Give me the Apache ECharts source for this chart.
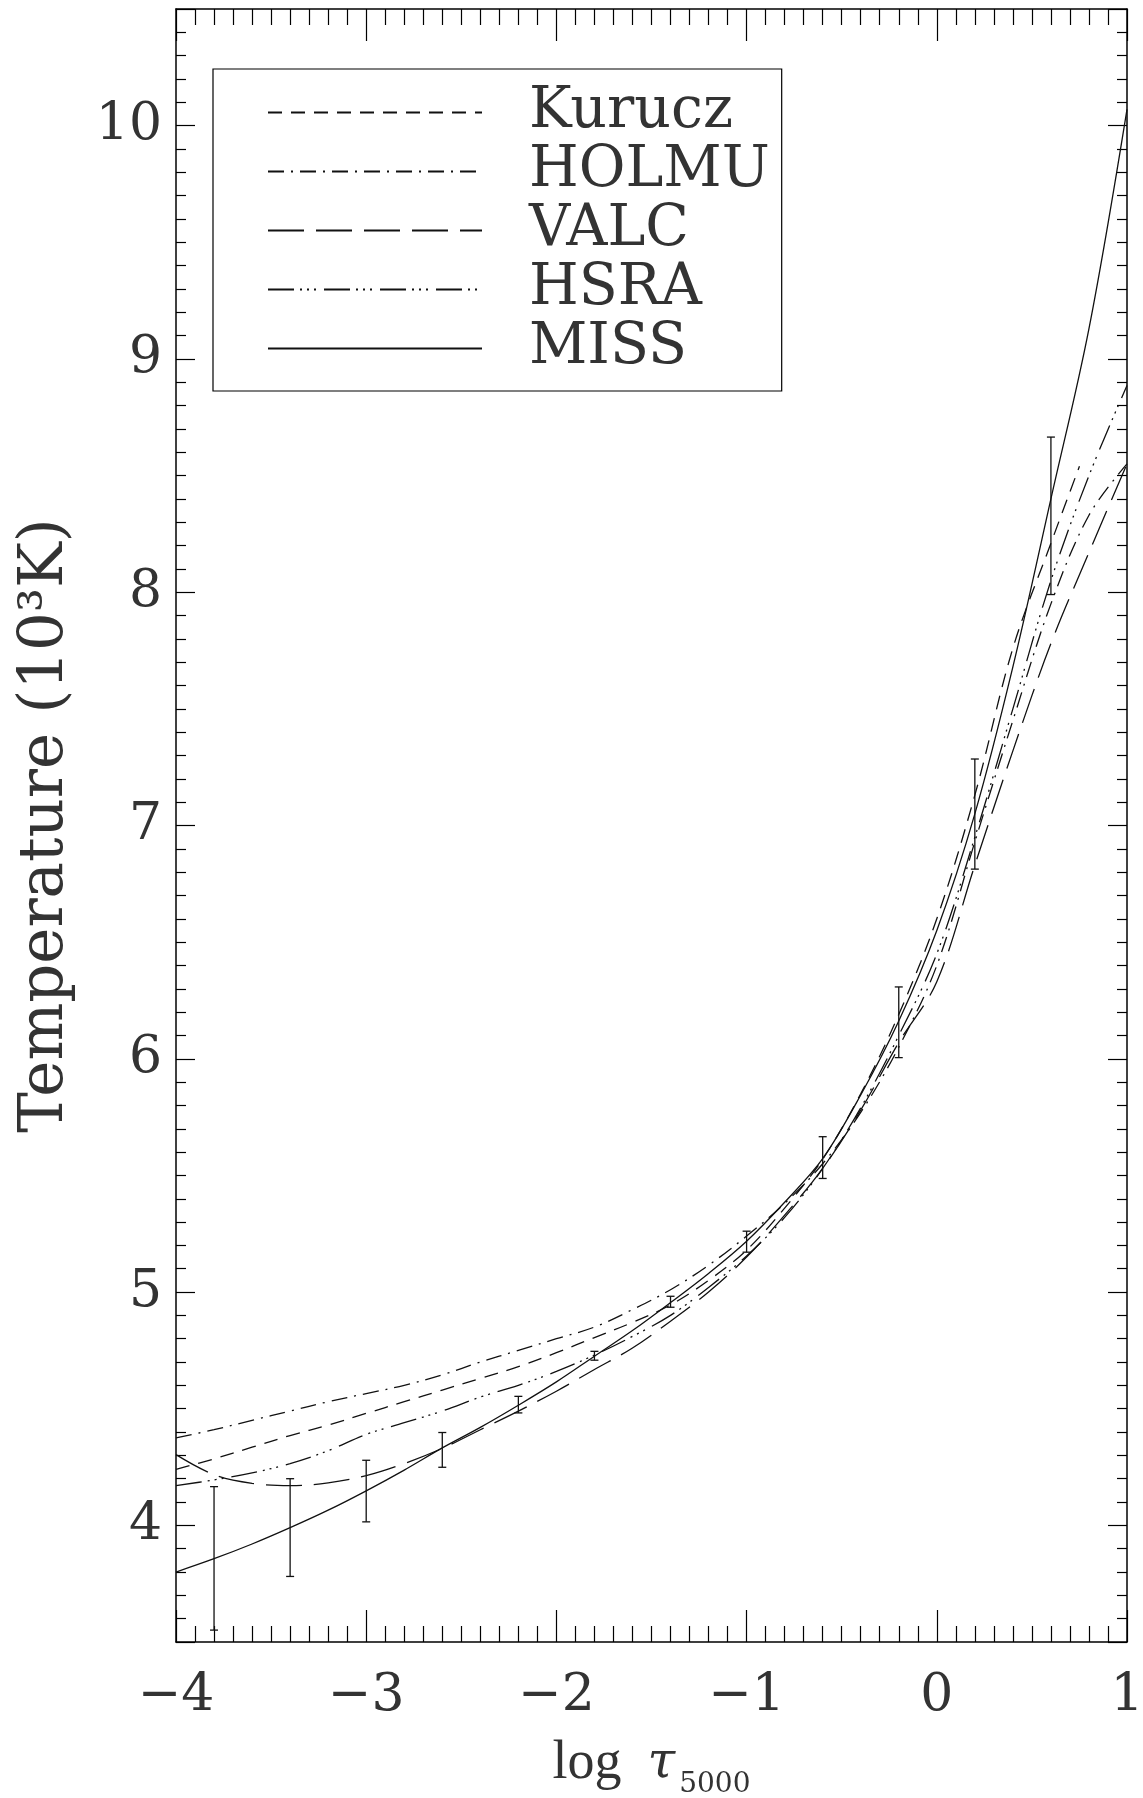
<!DOCTYPE html>
<html>
<head>
<meta charset="utf-8">
<script src="https://cdn.jsdelivr.net/npm/echarts@6/dist/echarts.min.js"></script>
<style>
  html, body { margin: 0; padding: 0; background: #fff; }
  #chart { width: 1143px; height: 1798px; }
</style>
</head>
<body>
<div id="chart"></div>
<script>
// log tau_5000 grid of the model curves
var logTau = [-4.0, -3.8, -3.6, -3.4, -3.2, -3.0, -2.8, -2.6, -2.4, -2.2, -2.0, -1.8, -1.6,
              -1.4, -1.2, -1.0, -0.8, -0.6, -0.4, -0.2, 0.0, 0.2, 0.4, 0.6, 0.8, 1.0];

// temperatures in 10^3 K
var kuruczTau = [-4.0, -3.8, -3.6, -3.4, -3.2, -3.0, -2.8, -2.6, -2.4, -2.2, -2.0, -1.8, -1.6,
                 -1.4, -1.2, -1.0, -0.8, -0.6, -0.4, -0.2, 0.0, 0.2, 0.4, 0.6, 0.75];
var kurucz = [4.24, 4.285, 4.335, 4.385, 4.43, 4.48, 4.53, 4.58, 4.63, 4.68, 4.74, 4.805, 4.87,
              4.945, 5.05, 5.18, 5.36, 5.57, 5.85, 6.19, 6.6, 7.13, 7.76, 8.21, 8.54];
var holmu = [4.375, 4.41, 4.45, 4.49, 4.53, 4.565, 4.60, 4.645, 4.70, 4.75, 4.80, 4.85, 4.925,
             5.01, 5.115, 5.24, 5.38, 5.55, 5.77, 6.05, 6.40, 6.93, 7.45, 7.95, 8.33, 8.55];
var valc = [4.303, 4.217, 4.18, 4.17, 4.182, 4.213, 4.265, 4.33, 4.41, 4.49, 4.575, 4.668, 4.76,
            4.875, 5.0, 5.15, 5.33, 5.53, 5.78, 6.07, 6.33, 6.83, 7.32, 7.78, 8.17, 8.55];
var hsra = [4.17, 4.195, 4.225, 4.265, 4.32, 4.39, 4.44, 4.49, 4.55, 4.60, 4.66, 4.73, 4.81,
            4.90, 5.02, 5.155, 5.32, 5.53, 5.79, 6.1, 6.45, 6.95, 7.5, 8.05, 8.5, 8.886];
var miss = [3.80, 3.857, 3.92, 3.99, 4.065, 4.148, 4.237, 4.332, 4.42, 4.515, 4.615, 4.725, 4.835,
            4.955, 5.08, 5.218, 5.385, 5.572, 5.845, 6.162, 6.55, 7.05, 7.68, 8.40, 9.13, 10.07];

// MISS error bars
var errTau  = [-3.8, -3.4, -3.0, -2.6, -2.2, -1.8, -1.4, -1.0, -0.6, -0.2, 0.2, 0.6];
var errLow  = [3.551, 3.781, 4.015, 4.249, 4.482, 4.708, 4.935, 5.171, 5.487, 6.005, 6.813, 7.99];
var errHigh = [4.166, 4.200, 4.279, 4.398, 4.553, 4.746, 4.982, 5.261, 5.666, 6.308, 7.285, 8.665];

var names = ['Kurucz', 'HOLMU', 'VALC', 'HSRA', 'MISS'];

function pairs(xs, ys) {
  return xs.map(function (x, i) { return [x, ys[i]]; });
}
function minus(v) {
  return v < 0 ? '\u2212' + Math.abs(v) : String(v);
}

var ink = '#111';
var txt = '#333';
var serif = 'DejaVu Serif';

function curve(name, xs, ys, dash) {
  return {
    name: name, type: 'line', data: pairs(xs, ys),
    symbol: 'none', showSymbol: false, smooth: 0.35, silent: true, z: 3,
    lineStyle: { color: ink, width: 1.3, type: dash },
    itemStyle: { color: ink }
  };
}

var errData = errTau.map(function (x, i) { return [x, errLow[i], errHigh[i]]; });

function xAxisOf(pos, labels) {
  return {
    type: 'value', min: -4, max: 1, interval: 1, position: pos,
    axisLine: { show: true, onZero: false, lineStyle: { color: '#000', width: 1.5 } },
    axisTick: { show: true, inside: true, length: 32, lineStyle: { color: '#000', width: 1.2 } },
    minorTick: { show: true, splitNumber: 10, length: 16, lineStyle: { color: '#000', width: 1.2 } },
    splitLine: { show: false },
    axisLabel: { show: labels, margin: 28, fontFamily: serif, fontSize: 52, color: txt, formatter: minus }
  };
}
function yAxisOf(pos, labels) {
  return {
    type: 'value', min: 3.5, max: 10.5, splitNumber: 7, position: pos,
    axisLine: { show: true, onZero: false, lineStyle: { color: '#000', width: 1.5 } },
    axisTick: { show: true, inside: true, length: 19, lineStyle: { color: '#000', width: 1.2 } },
    minorTick: { show: true, splitNumber: 10, length: 10, lineStyle: { color: '#000', width: 1.2 } },
    splitLine: { show: false },
    axisLabel: { show: labels, margin: 14, fontFamily: serif, fontSize: 52, color: txt,
                 showMinLabel: false, showMaxLabel: false }
  };
}

var xBottom = xAxisOf('bottom', true);
xBottom.name = '{a|log}{b|\u03c4}{c|5000}';
xBottom.nameLocation = 'middle';
xBottom.nameGap = 95;
xBottom.nameTextStyle = {
  color: txt,
  rich: {
    a: { fontFamily: 'Liberation Serif', fontSize: 54, color: txt },
    b: { fontFamily: serif, fontStyle: 'italic', fontSize: 50, color: txt, padding: [0, 4, 0, 26] },
    c: { fontFamily: serif, fontSize: 28, color: txt, verticalAlign: 'bottom', padding: [0, 0, -8, 0] }
  }
};

var yLeft = yAxisOf('left', true);
yLeft.name = 'Temperature (10\u00b3K)';
yLeft.nameLocation = 'middle';
yLeft.nameRotate = 90;
yLeft.nameGap = 99;
yLeft.nameTextStyle = { fontFamily: serif, fontSize: 61, color: txt };

var option = {
  animation: false,
  backgroundColor: '#fff',
  grid: { left: 176, right: 16, top: 9, bottom: 156, containLabel: false, outerBoundsMode: 'none' },
  xAxis: [xBottom, xAxisOf('top', false)],
  yAxis: [yLeft, yAxisOf('right', false)],
  legend: {
    data: names,
    orient: 'vertical', left: 213, top: 69,
    padding: [14, 12, 13, 54],
    borderColor: '#000', borderWidth: 1.2,
    itemWidth: 214, itemHeight: 16, itemGap: 0,
    selectedMode: false,
    itemStyle: { color: 'rgba(0,0,0,0)', borderWidth: 0, opacity: 0 },
    textStyle: { fontFamily: serif, fontSize: 57, color: txt, lineHeight: 59, width: 200, padding: [0, 0, 0, 42] }
  },
  series: [
    curve('Kurucz', kuruczTau, kurucz, [14, 9]),
    curve('HOLMU', logTau, holmu, [16, 7, 2, 7]),
    curve('VALC', logTau, valc, [36, 12]),
    curve('HSRA', logTau, hsra, [26, 6, 2, 5, 2, 5, 2, 8]),
    curve('MISS', logTau, miss, 'solid'),
    {
      name: 'err', type: 'custom', data: errData, silent: true, z: 4,
      renderItem: function (params, api) {
        var x = api.value(0);
        var lo = api.coord([x, api.value(1)]);
        var hi = api.coord([x, api.value(2)]);
        var c = 4;
        var st = { stroke: ink, lineWidth: 1.3 };
        return {
          type: 'group',
          children: [
            { type: 'line', shape: { x1: lo[0], y1: lo[1], x2: hi[0], y2: hi[1] }, style: st },
            { type: 'line', shape: { x1: lo[0] - c, y1: lo[1], x2: lo[0] + c, y2: lo[1] }, style: st },
            { type: 'line', shape: { x1: hi[0] - c, y1: hi[1], x2: hi[0] + c, y2: hi[1] }, style: st }
          ]
        };
      }
    }
  ]
};

var chart = echarts.init(document.getElementById('chart'));
chart.setOption(option);
</script>
</body>
</html>
